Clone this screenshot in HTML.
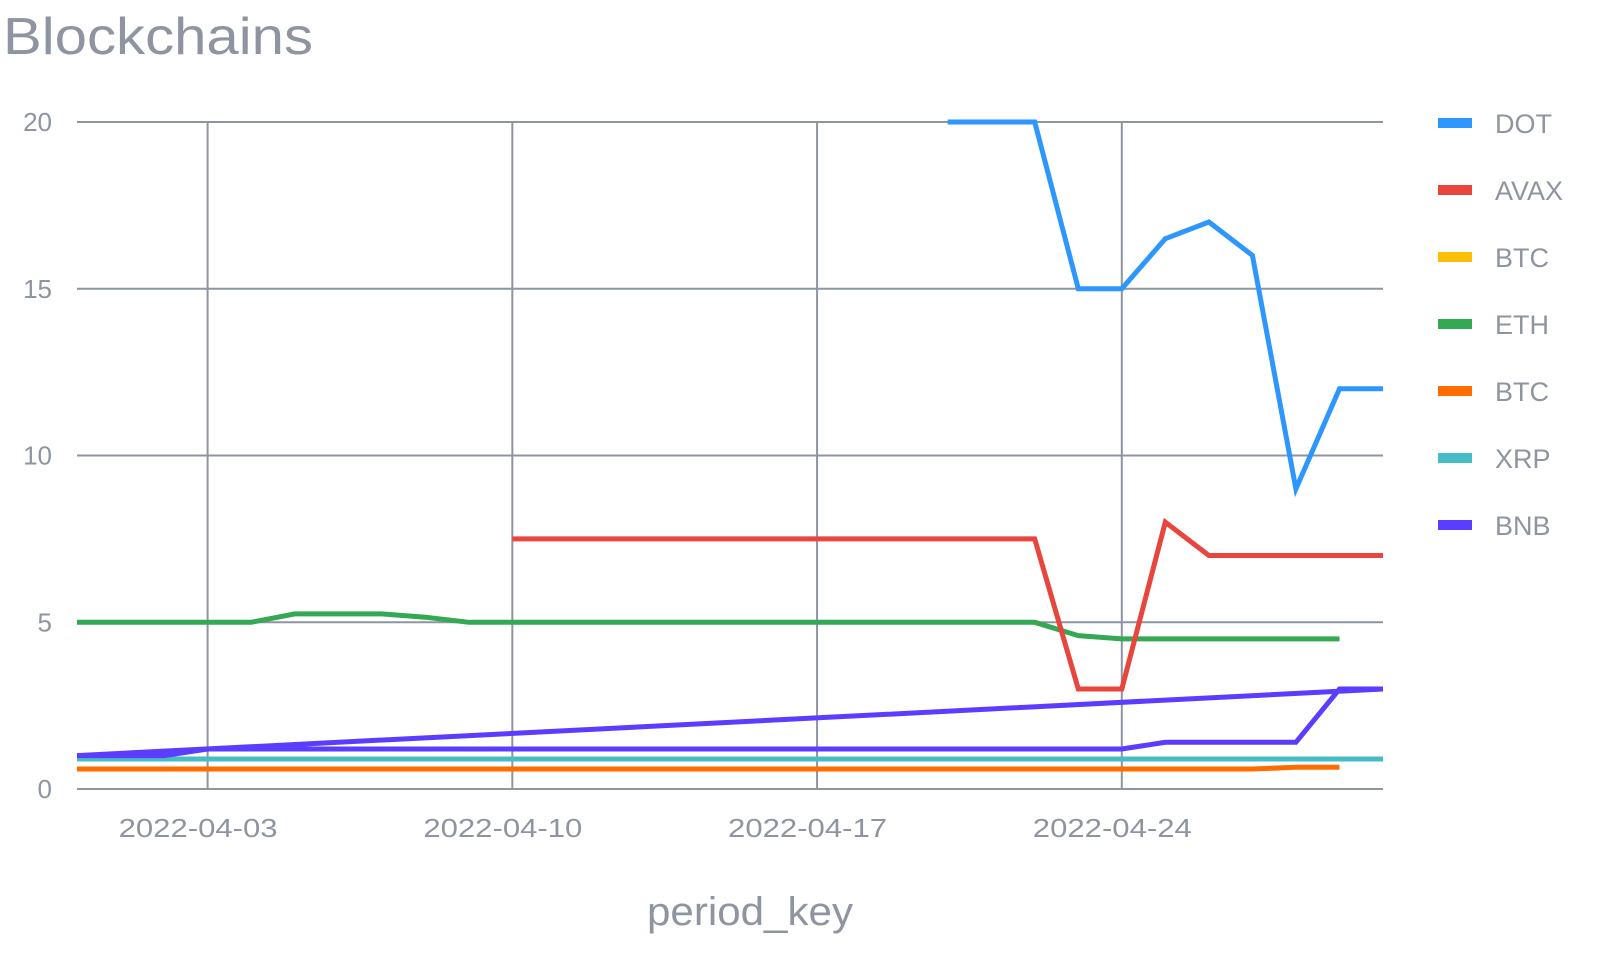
<!DOCTYPE html>
<html><head><meta charset="utf-8"><style>
body{margin:0;background:#fff;width:1600px;height:959px;overflow:hidden;font-family:"Liberation Sans",sans-serif}
</style></head><body>
<svg id="chart" width="1600" height="959" xmlns="http://www.w3.org/2000/svg"></svg>
<script>
const dayLabels=["2022-04-03","2022-04-10","2022-04-17","2022-04-24"];
const dayLabelIdx=[3,10,17,24];
const yTicks=[0,5,10,15,20];
const seriesNames=["DOT","AVAX","BTC","ETH","BTC","XRP","BNB"];
const seriesColors=["#2e96ff","#e8453c","#fcbf07","#34a853","#ff6d00","#46bdc6","#5a3dff"];
const dotDays=[20,21,22,23,24,25,26,27,28,29,30];
const dotVals=[20,20,20,15,15,16.5,17,16,9,12,12];
const avaxDays=[10,11,12,13,14,15,16,17,18,19,20,21,22,23,24,25,26,27,28,29,30];
const avaxVals=[7.5,7.5,7.5,7.5,7.5,7.5,7.5,7.5,7.5,7.5,7.5,7.5,7.5,3,3,8,7,7,7,7,7];
const ethDays=[0,1,2,3,4,5,6,7,8,9,10,11,12,13,14,15,16,17,18,19,20,21,22,23,24,25,26,27,28,29];
const ethVals=[5,5,5,5,5,5.25,5.25,5.25,5.15,5,5,5,5,5,5,5,5,5,5,5,5,5,5,4.6,4.5,4.5,4.5,4.5,4.5,4.5];
const btcDays=[0,27,28,29];
const btcVals=[0.6,0.6,0.65,0.65];
const xrpDays=[0,30];
const xrpVals=[0.9,0.9];
const bnbDays=[30,0,1,2,3,4,5,6,7,8,9,10,11,12,13,14,15,16,17,18,19,20,21,22,23,24,25,26,27,28,29,30];
const bnbVals=[3,1,1,1,1.2,1.2,1.2,1.2,1.2,1.2,1.2,1.2,1.2,1.2,1.2,1.2,1.2,1.2,1.2,1.2,1.2,1.2,1.2,1.2,1.2,1.2,1.4,1.4,1.4,1.4,3,3];

const svg=document.getElementById('chart');
const NS="http://www.w3.org/2000/svg";
const X0=77,X1=1383,Y0=789,Y1=122;
const xs=d=>X0+(X1-X0)*d/30;
const ys=v=>Y0-(Y0-Y1)*v/20;
const G="#8e95a1";
function mk(t,a,txt){const e=document.createElementNS(NS,t);for(const k in a)e.setAttribute(k,a[k]);if(txt!=null)e.textContent=txt;svg.appendChild(e);return e;}
let e=mk('text',{x:3,y:54,'font-size':52,fill:G,textLength:310,lengthAdjust:'spacingAndGlyphs'},'Blockchains');


yTicks.forEach(v=>{
  let l=mk('line',{x1:X0,x2:X1,y1:ys(v),y2:ys(v),stroke:G,'stroke-width':2});
  
  
  let t=mk('text',{x:52,y:ys(v)+9,'font-size':26,fill:G,'text-anchor':'end'},String(v));
  
  
});
dayLabelIdx.forEach((d,i)=>{
  let l=mk('line',{x1:xs(d),x2:xs(d),y1:Y1,y2:Y0,stroke:G,'stroke-width':2});
  
  
  let t=mk('text',{x:xs(d)-89,y:837,'font-size':26,fill:G,textLength:159,lengthAdjust:'spacingAndGlyphs'},dayLabels[i]);
  
  
});
e=mk('text',{x:647,y:925,'font-size':40,fill:G,textLength:206,lengthAdjust:'spacingAndGlyphs'},'period_key');


const all=[[dotDays,dotVals],[avaxDays,avaxVals],[[],[]],[ethDays,ethVals],[btcDays,btcVals],[xrpDays,xrpVals],[bnbDays,bnbVals]];
const order=[5,4,3,6,1,0];
order.forEach(i=>{
  const [d,v]=all[i];
  const p=d.map((dd,j)=>(j?'L':'M')+xs(dd).toFixed(1)+','+ys(v[j]).toFixed(1)).join('');
  let s=mk('path',{d:p,fill:'none',stroke:seriesColors[i],'stroke-width':5,'stroke-linejoin':'miter'});
  
  
});
seriesNames.forEach((n,i)=>{
  const y=123+i*67;
  let r=mk('rect',{x:1438,y:y-5,width:34,height:10,fill:seriesColors[i]});
  
  
  let t=mk('text',{x:1495,y:y+10,'font-size':27,fill:G},n);
  
  
});
</script>
</body></html>
